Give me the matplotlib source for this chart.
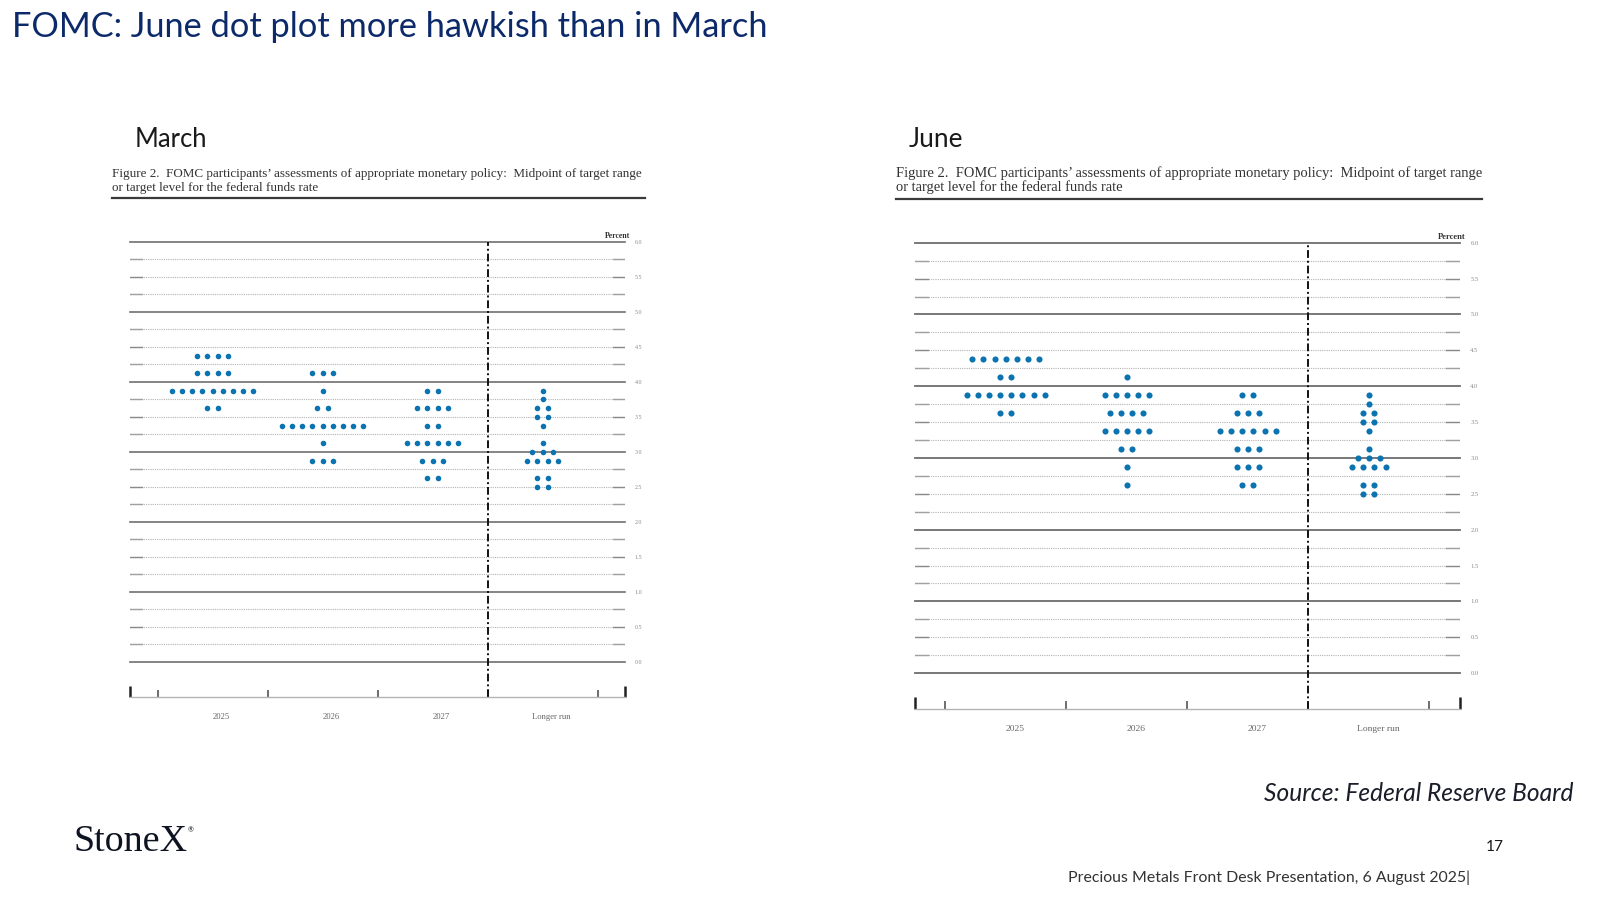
import numpy as np
import matplotlib
matplotlib.use('Agg')
import matplotlib.pyplot as plt
from matplotlib.lines import Line2D

# Dot plot data: number of participants at each midpoint (same rate grid for every column)
rate_grid = [4.375, 4.125, 3.875, 3.75, 3.625, 3.5, 3.375, 3.125, 3.0, 2.875, 2.625, 2.5]
columns = ['2025', '2026', '2027', 'Longer run']

march_2025 = [4, 4, 9, 0, 2, 0, 0, 0, 0, 0, 0, 0]
march_2026 = [0, 3, 1, 0, 2, 0, 9, 1, 0, 3, 0, 0]
march_2027 = [0, 0, 2, 0, 4, 0, 2, 6, 0, 3, 2, 0]
march_longer = [0, 0, 1, 1, 2, 2, 1, 1, 3, 4, 2, 2]

june_2025 = [7, 2, 8, 0, 2, 0, 0, 0, 0, 0, 0, 0]
june_2026 = [0, 1, 5, 0, 4, 0, 5, 2, 0, 1, 1, 0]
june_2027 = [0, 0, 2, 0, 3, 0, 6, 3, 0, 3, 2, 0]
june_longer = [0, 0, 1, 1, 2, 2, 1, 1, 3, 4, 2, 2]

y_levels = np.arange(0, 6.01, 0.25)
y_labels = np.arange(0, 6.01, 0.5)

title = 'FOMC: June dot plot more hawkish than in March'
caption_1 = 'Figure 2.  FOMC participants\u2019 assessments of appropriate monetary policy:  Midpoint of target range'
caption_2 = 'or target level for the federal funds rate'

dot_color = '#0a73b0'
navy = '#0c2a6a'
serif = 'Liberation Serif'
sans = 'Lato'
dot_step = 0.092

W, H = 1600, 900
fig = plt.figure(figsize=(16, 9), dpi=100)
renderer = fig.canvas.get_renderer()


def px_text(x, y, s, width=None, **kw):
    # place text in pixel coords (y from top); optionally scale font to a target width
    t = fig.text(x / W, 1 - y / H, s, **kw)
    if width:
        bb = t.get_window_extent(renderer)
        t.set_fontsize(t.get_fontsize() * width / bb.width)
    return t


def px_axes(left, top, right, bottom):
    return fig.add_axes([left / W, 1 - bottom / H, (right - left) / W, (bottom - top) / H])


def draw_panel(ax, counts_by_col, s):
    ax.set_xlim(-0.75, 3.75)
    ax.set_ylim(-0.5, 6.0)

    for v in y_levels:
        if v % 1 == 0:
            ax.axhline(v, color='#707070', lw=1.2 * s, zorder=1, clip_on=False)
        else:
            ax.axhline(v, color='#b4b4b4', lw=0.8, ls=(0, (1, 1)), zorder=1)
            col = '#8a8a8a' if v % 0.5 == 0 else '#a0a0a0'
            ax.plot([-0.75, -0.64], [v, v], color=col, lw=1.0, zorder=1)
            ax.plot([3.64, 3.75], [v, v], color=col, lw=1.0, zorder=1)

    ax.vlines(2.5, -0.5, 6.0, colors='#111111', lw=1.4,
              linestyles=(0, (4, 1.5, 1, 1.5)), zorder=2, clip_on=False)

    for i, counts in enumerate(counts_by_col):
        for rate, n in zip(rate_grid, counts):
            if n:
                xs = i + (np.arange(n) - (n - 1) / 2) * dot_step
                ax.plot(xs, [rate] * n, 'o', ms=4.0 * s, color=dot_color,
                        mec='none', zorder=3, clip_on=False)

    for sp in ['top', 'left', 'right']:
        ax.spines[sp].set_visible(False)
    ax.spines['bottom'].set_color('#b4b4b4')
    ax.spines['bottom'].set_linewidth(1.0)

    ax.set_xticks([-0.5, 0.5, 1.5, 2.5, 3.5])
    ax.set_xticklabels([])
    ax.set_xticks([-0.75, 3.75], minor=True)
    ax.tick_params(axis='x', which='major', direction='in', length=5 * s, width=1.2, color='#555555')
    ax.tick_params(axis='x', which='minor', direction='in', length=8 * s, width=1.8, color='#222222')

    ax.yaxis.tick_right()
    ax.set_yticks(y_labels)
    ax.set_yticklabels([f'{v:.1f}' for v in y_labels])
    ax.tick_params(axis='y', length=0, pad=7 * s, labelsize=4.3 * s, labelcolor='#8a8a8a')
    for lbl in ax.get_yticklabels():
        lbl.set_family(serif)

    for i, name in enumerate(columns):
        ax.annotate(name, xy=(i, -0.5), xytext=(6 * s, -14.5), textcoords='offset points',
                    ha='center', va='center', fontsize=6.2 * s, family=serif, color='#666666')

    ax.annotate('Percent', xy=(3.75, 6.0), xytext=(4, 1.5), textcoords='offset points',
                ha='right', va='bottom', fontsize=5.6 * s, fontweight='bold', family=serif,
                color='#333333')


# March panel
ax_m = px_axes(130, 242, 625, 696.7)
draw_panel(ax_m, [march_2025, march_2026, march_2027, march_longer], 1.0)

# June panel
ax_j = px_axes(915, 242.7, 1459.6, 709)
draw_panel(ax_j, [june_2025, june_2026, june_2027, june_longer], 1.1)

# captions and rules above each panel
for x0, x1, rule_y in [(112, 645, 198), (896, 1481.7, 199.3)]:
    px_text(x0, 177.5, caption_1, width=x1 - x0, family=serif, fontsize=8.5,
            color='#333333', va='baseline')
    t = fig.texts[-1]
    px_text(x0, 191.5, caption_2, family=serif, fontsize=t.get_fontsize(),
            color='#333333', va='baseline')
    fig.add_artist(Line2D([x0 / W, x1 / W], [1 - rule_y / H] * 2, color='#3a3a3a', lw=1.6))

# slide texts
px_text(12, 36.7, title, width=758, family=sans, fontsize=25, color=navy, va='baseline')
px_text(135, 146.7, 'March', width=72, family=sans, fontsize=18, color='#1a1a1a', va='baseline')
px_text(909, 146.7, 'June', width=54, family=sans, fontsize=18, color='#1a1a1a', va='baseline')
px_text(1574, 801, 'Source: Federal Reserve Board', width=310, family=sans, style='italic',
        fontsize=17, color='#1a1d2a', ha='right', va='baseline')
px_text(1486, 851, '17', width=18, family=sans, fontsize=14, color='#1a1a1a', va='baseline')
px_text(1068, 882, 'Precious Metals Front Desk Presentation, 6 August 2025|', width=399,
        family=sans, fontsize=11, color='#333333', va='baseline')
px_text(73, 850.7, 'StoneX', width=114, family=serif, fontsize=27, color='#0d1321', va='baseline')
px_text(188, 832, '\u00ae', family=sans, fontsize=5, color='#0d1321', va='baseline')

fig.savefig('out.png', dpi=100)
